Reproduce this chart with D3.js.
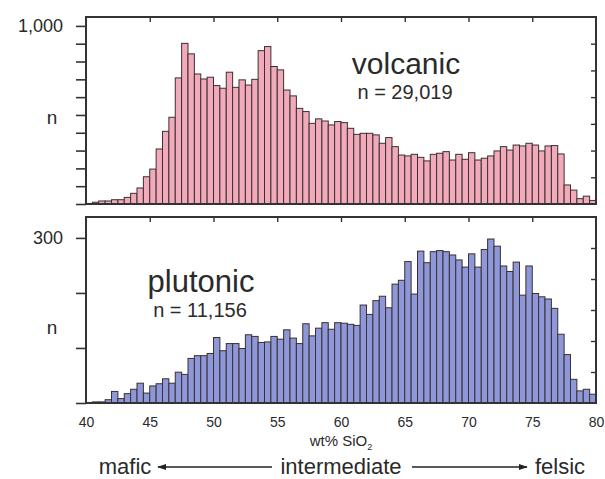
<!DOCTYPE html>
<html>
<head>
<meta charset="utf-8">
<script src="https://cdnjs.cloudflare.com/ajax/libs/d3/7.8.5/d3.min.js"></script>
<style>
  body { margin: 0; background: #fff; }
  text { font-family: "Liberation Sans", Arial, sans-serif; fill: #2a2a2a; }
</style>
</head>
<body>
<svg id="chart" width="605" height="479"></svg>
<script>
// SiO2 bins, 0.5 wt% wide, from 40 to 80
var binWidth = 0.5
var binStarts = d3.range(40, 80, binWidth)

// counts per bin
var volcanic = [3, 10, 17, 17, 24, 24, 37, 60, 90, 153,
  196, 309, 408, 487, 708, 902, 843, 730, 702, 712,
  665, 650, 740, 655, 697, 668, 700, 861, 884, 772,
  753, 640, 607, 537, 519, 453, 478, 466, 444, 463,
  457, 425, 391, 397, 397, 388, 341, 373, 322, 275,
  270, 279, 262, 242, 279, 285, 294, 247, 279, 251,
  288, 247, 257, 270, 298, 322, 303, 331, 326, 341,
  331, 298, 326, 328, 281, 107, 78, 30, 44, 20]

var plutonic = [1, 2, 2, 6, 21, 8, 17, 25, 36, 18,
  31, 35, 44, 36, 56, 52, 81, 86, 86, 90,
  119, 95, 108, 108, 99, 124, 121, 110, 111, 121,
  116, 133, 118, 108, 144, 122, 136, 146, 134, 146,
  145, 143, 141, 178, 161, 186, 194, 173, 216, 223,
  257, 198, 276, 255, 275, 277, 275, 269, 260, 247,
  271, 247, 279, 298, 285, 249, 239, 256, 196, 249,
  199, 193, 189, 172, 125, 88, 43, 22, 25, 16]

var xTicks = [40, 45, 50, 55, 60, 65, 70, 75, 80]
var volcanicTicks = [0, 100, 200, 300, 400, 500, 600, 700, 800, 900, 1000]
var plutonicTicks = [0, 100, 200, 300]
var volcanicPct = [0.5, 1, 1.5, 2, 2.5, 3]
var plutonicPct = [0.5, 1, 1.5, 2, 2.5]

var svg = d3.select("#chart")
var x = d3.scaleLinear().domain([40, 80]).range([86, 596])

var panels = [
  {name: "volcanic", n: "n = 29,019", data: volcanic, fill: "#f2aabb",
   top: 17, bottom: 204, max: 1050, pctMax: 3.5, ticks: volcanicTicks, pct: volcanicPct,
   label: 1000, labelText: "1,000", nY: 118, title: [406, 74, 30], sub: [405, 99]},
  {name: "plutonic", n: "n = 11,156", data: plutonic, fill: "#8e97d9",
   top: 217, bottom: 403, max: 338, pctMax: 3.0, ticks: plutonicTicks, pct: plutonicPct,
   label: 300, labelText: "300", nY: 328, title: [201, 292, 31], sub: [200, 317]}
]

panels.forEach(function(p) {
  var y = d3.scaleLinear().domain([0, p.max]).range([p.bottom, p.top])
  var yPct = d3.scaleLinear().domain([0, p.pctMax]).range([p.bottom, p.top])
  var g = svg.append("g")

  g.selectAll("rect.bar").data(p.data).enter()
    .append("rect")
    .attr("class", "bar")
    .attr("x", function(d, i) { return x(binStarts[i]) })
    .attr("width", function(d, i) { return x(binStarts[i] + binWidth) - x(binStarts[i]) })
    .attr("y", function(d) { return y(d) })
    .attr("height", function(d) { return p.bottom - y(d) })
    .style("fill", p.fill)
    .style("stroke", "#3a3030")
    .style("stroke-width", 1)

  // left axis, ticks outward
  var left = g.append("g").attr("transform", "translate(" + x(40) + ",0)")
    .call(d3.axisLeft(y).tickValues(p.ticks).tickSize(10).tickFormat(""))
  left.select(".domain").remove()
  left.selectAll("line").style("stroke", "#333").style("stroke-width", 1.6)

  // right axis in percent, ticks inward
  var right = g.append("g").attr("transform", "translate(" + x(80) + ",0)")
    .call(d3.axisLeft(yPct).tickValues(p.pct).tickSize(5).tickFormat(""))
  right.select(".domain").remove()
  right.selectAll("line").style("stroke", "#333").style("stroke-width", 1.4)

  // top ticks, inward
  var topAx = g.append("g").attr("transform", "translate(0," + p.top + ")")
    .call(d3.axisBottom(x).tickValues(xTicks.slice(1, -1)).tickSize(5).tickFormat(""))
  topAx.select(".domain").remove()
  topAx.selectAll("line").style("stroke", "#333").style("stroke-width", 1.4)

  g.append("rect")
    .attr("x", x(40)).attr("y", p.top)
    .attr("width", x(80) - x(40)).attr("height", p.bottom - p.top)
    .style("fill", "none").style("stroke", "#333").style("stroke-width", 2)

  g.append("text").attr("x", 63).attr("y", y(p.label)).attr("dy", "0.35em")
    .attr("text-anchor", "end").style("font-size", "18px").text(p.labelText)
  g.append("text").attr("x", 52).attr("y", p.nY).attr("dy", "0.32em")
    .attr("text-anchor", "middle").style("font-size", "19px").text("n")

  g.append("text").attr("x", p.title[0]).attr("y", p.title[1])
    .attr("text-anchor", "middle").style("font-size", p.title[2] + "px").text(p.name)
  g.append("text").attr("x", p.sub[0]).attr("y", p.sub[1])
    .attr("text-anchor", "middle").style("font-size", "20px").text(p.n)
})

// bottom tick labels
var xAxis = svg.append("g").attr("transform", "translate(0,403)")
  .call(d3.axisBottom(x).tickValues(xTicks).tickSize(0).tickPadding(14))
xAxis.select(".domain").remove()
xAxis.selectAll("text").style("font-size", "14px")
  .style("font-family", "Liberation Sans, Arial, sans-serif").style("fill", "#2a2a2a")

var xl = svg.append("text").attr("x", x(60)).attr("y", 446)
  .attr("text-anchor", "middle").style("font-size", "15px")
xl.append("tspan").text("wt% SiO")
xl.append("tspan").attr("dy", 4).style("font-size", "9px").text("2")

// mafic <- intermediate -> felsic
var defs = svg.append("defs")
defs.append("marker").attr("id", "head").attr("viewBox", "0 0 10 10")
  .attr("refX", 9).attr("refY", 5).attr("markerWidth", 9).attr("markerHeight", 9)
  .attr("markerUnits", "userSpaceOnUse").attr("orient", "auto")
  .append("path").attr("d", "M0,1.5 L10,5 L0,8.5 Z").style("fill", "#222")

var rowBase = 474
var rowLine = 467
svg.append("text").attr("x", 125).attr("y", rowBase)
  .attr("text-anchor", "middle").style("font-size", "22px").text("mafic")
svg.append("text").attr("x", x(60)).attr("y", rowBase)
  .attr("text-anchor", "middle").style("font-size", "22px").text("intermediate")
svg.append("text").attr("x", 560).attr("y", rowBase)
  .attr("text-anchor", "middle").style("font-size", "22px").text("felsic")
svg.append("line").attr("x1", 272).attr("y1", rowLine).attr("x2", 158).attr("y2", rowLine)
  .style("stroke", "#222").style("stroke-width", 1.3).attr("marker-end", "url(#head)")
svg.append("line").attr("x1", 412).attr("y1", rowLine).attr("x2", 527).attr("y2", rowLine)
  .style("stroke", "#222").style("stroke-width", 1.3).attr("marker-end", "url(#head)")
</script>
</body>
</html>
